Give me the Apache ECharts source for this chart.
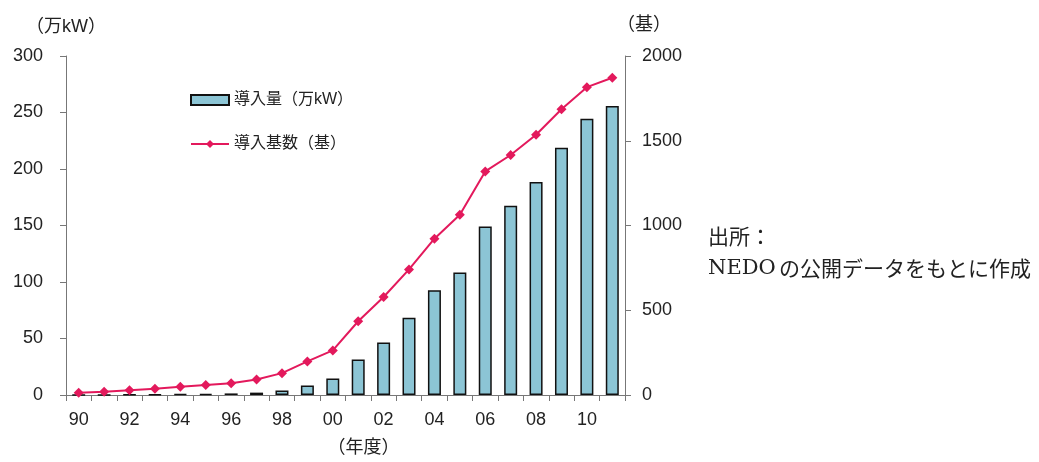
<!DOCTYPE html>
<html>
<head>
<meta charset="utf-8">
<script src="https://cdn.jsdelivr.net/npm/echarts@6/dist/echarts.min.js"></script>
<style>
  html, body { margin: 0; padding: 0; background: #fff; }
  #chart { width: 1039px; height: 462px; }
</style>
</head>
<body>
<div id="chart"></div>
<script>
// 年度（1990〜2011）
var years = ['90','91','92','93','94','95','96','97','98','99','00','01','02','03','04','05','06','07','08','09','10','11'];
// 導入量（万kW）
var capacity = [0.1, 0.2, 0.3, 0.5, 0.7, 1.0, 1.4, 2.1, 4.0, 8.5, 14.6, 31.5, 46.5, 68.3, 92.7, 108.5, 149.2, 167.5, 188.5, 218.8, 244.5, 255.8];
// 導入基数（基）
var units = [13, 19, 28, 37, 49, 59, 69, 92, 129, 198, 263, 435, 578, 741, 922, 1063, 1319, 1416, 1535, 1686, 1816, 1872];

var FONT = '"Liberation Sans", "Noto Sans CJK JP", sans-serif';
var LINE_COLOR = '#e3195c';
var TXT = '#222';

var chart = echarts.init(document.getElementById('chart'));
var option = {
    animation: false,
    backgroundColor: '#fff',
    textStyle: { fontFamily: FONT, color: TXT },
    grid: { left: 66, right: 414, top: 56, bottom: 66 },
    legend: {
        orient: 'vertical',
        left: 185,
        top: 87,
        itemGap: 28,
        itemWidth: 38,
        itemHeight: 10,
        textStyle: { fontSize: 16, color: TXT, fontFamily: FONT },
        data: [
            { name: '導入量（万kW）', icon: 'rect' },
            { name: '導入基数（基）' }
        ]
    },
    xAxis: {
        type: 'category',
        data: years,
        boundaryGap: true,
        axisLine: { lineStyle: { color: '#777', width: 1 } },
        axisTick: { show: true, length: 6, interval: 0, lineStyle: { color: '#777' } },
        axisLabel: { interval: 1, fontSize: 18, color: TXT, margin: 16, fontFamily: FONT },
        name: '（年度）',
        nameLocation: 'middle',
        nameGap: 44,
        nameTextStyle: { fontSize: 18, color: TXT, fontFamily: FONT, padding: [0, 0, 0, 36] }
    },
    yAxis: [
        {
            type: 'value',
            min: 0, max: 300, interval: 50,
            position: 'left',
            axisLine: { show: true, lineStyle: { color: '#777' } },
            axisTick: { show: true, length: 6, lineStyle: { color: '#777' } },
            splitLine: { show: false },
            axisLabel: { fontSize: 18, color: TXT, margin: 23, fontFamily: FONT },
            name: '（万kW）',
            nameGap: 20,
            nameTextStyle: { fontSize: 18, color: TXT, fontFamily: FONT, align: 'center' }
        },
        {
            type: 'value',
            min: 0, max: 2000, interval: 500,
            position: 'right',
            axisLine: { show: true, lineStyle: { color: '#777' } },
            axisTick: { show: true, length: 6, lineStyle: { color: '#777' } },
            splitLine: { show: false },
            axisLabel: { fontSize: 18, color: TXT, margin: 17, fontFamily: FONT, formatter: function (v) { return String(v); } },
            name: '（基）',
            nameGap: 22,
            nameTextStyle: { fontSize: 18, color: TXT, fontFamily: FONT, align: 'center', padding: [0, 0, 0, 38] }
        }
    ],
    series: [
        {
            name: '導入量（万kW）',
            type: 'bar',
            yAxisIndex: 0,
            data: capacity,
            barWidth: 13,
            itemStyle: { color: '#8cc5d5', borderColor: '#111', borderWidth: 1.5 }
        },
        {
            name: '導入基数（基）',
            type: 'line',
            yAxisIndex: 1,
            data: units,
            symbol: 'diamond',
            symbolSize: 10,
            lineStyle: { color: LINE_COLOR, width: 2 },
            itemStyle: { color: LINE_COLOR }
        }
    ],
    graphic: [
        {
            type: 'text',
            left: 708,
            top: 226,
            style: {
                text: '{a|出所：}\n{b|NEDO} {a|の公開データをもとに作成}',
                fill: TXT,
                rich: {
                    a: { fontSize: 21, lineHeight: 32, fill: TXT, fontFamily: '"Noto Sans CJK JP", serif' },
                    b: { fontSize: 21, lineHeight: 32, fill: TXT, fontFamily: '"DejaVu Serif", serif' }
                }
            }
        }
    ]
};
chart.setOption(option);
</script>
</body>
</html>
